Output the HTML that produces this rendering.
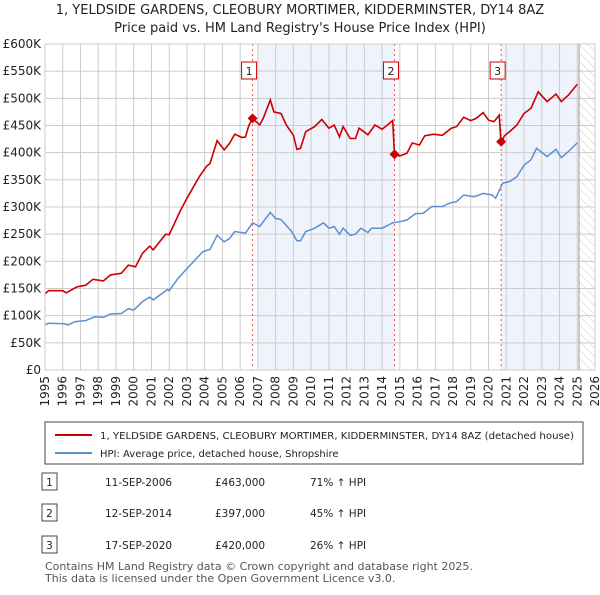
<!DOCTYPE html>
<html><head><meta charset="utf-8"><style>
body{margin:0;background:#fff;font-family:"Liberation Sans",sans-serif;}
svg text{font-family:"DejaVu Sans","Liberation Sans",sans-serif;}
</style></head><body>
<svg width="600" height="590" viewBox="0 0 600 590" xmlns="http://www.w3.org/2000/svg">
<defs><pattern id="hatch" width="6" height="6" patternUnits="userSpaceOnUse" patternTransform="rotate(-45)"><line x1="0" y1="0" x2="0" y2="6" stroke="#ccc" stroke-width="1"/></pattern></defs>
<text x="300" y="14" text-anchor="middle" font-size="13" fill="#222">1, YELDSIDE GARDENS, CLEOBURY MORTIMER, KIDDERMINSTER, DY14 8AZ</text>
<text x="300" y="32" text-anchor="middle" font-size="13" fill="#222">Price paid vs. HM Land Registry's House Price Index (HPI)</text>
<g id="plot"></g>
<g>
<rect x="45" y="422" width="538" height="42" fill="#fff" stroke="#444"/>
<line x1="55" y1="435" x2="92" y2="435" stroke="#cc0000" stroke-width="2"/>
<text x="100" y="439" font-size="10" textLength="474" lengthAdjust="spacingAndGlyphs" fill="#222">1, YELDSIDE GARDENS, CLEOBURY MORTIMER, KIDDERMINSTER, DY14 8AZ (detached house)</text>
<line x1="55" y1="453" x2="92" y2="453" stroke="#5b8fd0" stroke-width="2"/>
<text x="100" y="457" font-size="10" fill="#222">HPI: Average price, detached house, Shropshire</text>
</g>
<g id="table" font-size="10.5" fill="#222"></g>
<text x="45" y="570" font-size="11" fill="#555">Contains HM Land Registry data © Crown copyright and database right 2025.</text>
<text x="45" y="582" font-size="11" fill="#555">This data is licensed under the Open Government Licence v3.0.</text>
</svg>
<script>
const hpiYears=[1995.0,1995.2,1996.1,1996.3,1996.7,1997.3,1997.8,1998.3,1998.7,1999.3,1999.7,2000.0,2000.5,2000.9,2001.1,2001.9,2002.0,2002.5,2003.1,2003.9,2004.3,2004.7,2005.1,2005.4,2005.7,2006.3,2006.7,2007.1,2007.7,2008.0,2008.3,2008.9,2009.2,2009.4,2009.7,2010.2,2010.7,2011.0,2011.3,2011.6,2011.8,2012.2,2012.5,2012.8,2013.2,2013.4,2014.0,2014.6,2015.0,2015.4,2015.9,2016.3,2016.8,2017.4,2017.8,2018.2,2018.6,2019.2,2019.7,2020.2,2020.4,2020.8,2021.2,2021.6,2022.0,2022.4,2022.7,2023.3,2023.8,2024.1,2024.5,2025.0];
const hpiValues=[83,86,85,83,89,91,98,97,103,104,113,110,126,134,129,148,146,169,190,218,222,248,236,242,255,252,271,264,290,279,277,255,238,238,255,261,271,261,264,250,261,248,250,261,253,261,261,271,273,276,288,288,301,301,307,310,322,319,325,322,316,344,347,356,377,387,408,393,406,391,402,418];
const redYears=[1995.0,1995.2,1996.0,1996.2,1996.8,1997.3,1997.7,1998.3,1998.7,1999.3,1999.7,2000.1,2000.5,2000.9,2001.1,2001.8,2002.0,2002.6,2003.0,2003.7,2004.1,2004.3,2004.7,2005.1,2005.4,2005.7,2006.1,2006.3,2006.5,2006.7,2007.1,2007.3,2007.7,2007.9,2008.3,2008.6,2009.0,2009.2,2009.4,2009.7,2010.2,2010.6,2011.0,2011.3,2011.6,2011.8,2012.2,2012.5,2012.7,2013.2,2013.6,2014.0,2014.6,2014.7,2015.0,2015.4,2015.7,2016.1,2016.4,2016.9,2017.4,2017.9,2018.2,2018.6,2019.0,2019.3,2019.7,2020.0,2020.3,2020.6,2020.7,2020.9,2021.2,2021.6,2022.0,2022.4,2022.8,2023.3,2023.8,2024.1,2024.5,2025.0];
const redValues=[140,146,146,142,153,156,167,164,175,178,193,190,215,228,221,250,249,291,316,356,375,380,422,405,417,434,428,429,451,463,451,463,497,475,472,451,432,406,408,439,448,461,445,451,429,448,426,426,445,433,451,443,459,396,394,399,418,414,431,434,432,445,448,465,459,463,474,460,457,469,418,431,439,451,472,482,512,494,508,494,506,526];
const saleLabels=["1","2","3"];
const saleYears=[2006.70,2014.70,2020.71];
const saleValues=[463,397,420];
const saleDates=["11-SEP-2006","12-SEP-2014","17-SEP-2020"];
const salePrices=["£463,000","£397,000","£420,000"];
const saleHpi=["71% ↑ HPI","45% ↑ HPI","26% ↑ HPI"];
const yTicks=[0,50,100,150,200,250,300,350,400,450,500,550,600];
const xTicks=[1995,1996,1997,1998,1999,2000,2001,2002,2003,2004,2005,2006,2007,2008,2009,2010,2011,2012,2013,2014,2015,2016,2017,2018,2019,2020,2021,2022,2023,2024,2025,2026];

const L=45,R=595,T=44,B=370,X0=1995,X1=2026,YMAX=600;
const xs=y=>L+(y-X0)/(X1-X0)*(R-L);
const ys=v=>B-v/YMAX*(B-T);
const NS="http://www.w3.org/2000/svg";
const plot=document.getElementById('plot');
function mk(tag,attrs,parent){const e=document.createElementNS(NS,tag);for(const k in attrs)e.setAttribute(k,attrs[k]);(parent||plot).appendChild(e);return e;}

let e;
e=mk('rect',{x:xs(2007.0),y:T,width:xs(saleYears[1])-xs(2007.0),height:B-T,fill:'#eef3fc'});


e=mk('rect',{x:xs(saleYears[2]),y:T,width:xs(2025.1)-xs(saleYears[2]),height:B-T,fill:'#eef3fc'});


e=mk('rect',{x:xs(2025.1),y:T,width:R-xs(2025.1),height:B-T,fill:'url(#hatch)'});


yTicks.forEach(v=>{
  e=mk('line',{x1:L,x2:R,y1:ys(v),y2:ys(v),stroke:'#cccccc','stroke-width':1});
  
  
  e=mk('text',{x:L-4,y:ys(v)+4,'text-anchor':'end','font-size':12,fill:'#222'});
  e.textContent=v===0?'£0':'£'+v+'K';
  
  
});
xTicks.forEach(y=>{
  e=mk('line',{x1:xs(y),x2:xs(y),y1:T,y2:B,stroke:'#cccccc','stroke-width':1});
  
  
  e=mk('text',{x:0,y:0,'text-anchor':'end','font-size':12,fill:'#222',transform:`translate(${xs(y)+4},${B+6}) rotate(-90)`});
  e.textContent=y;
  
  
});
e=mk('line',{x1:xs(2025.1),x2:xs(2025.1),y1:T,y2:B,stroke:'#999','stroke-width':1});


saleYears.forEach((y,i)=>{
  e=mk('line',{x1:xs(y),x2:xs(y),y1:T,y2:B,stroke:'#ee5555','stroke-width':1,'stroke-dasharray':'2,3'});
  
  
});
function pathOf(xa,va){return xa.map((x,i)=>(i?'L':'M')+xs(x).toFixed(1)+','+ys(va[i]).toFixed(1)).join('');}
e=mk('path',{d:pathOf(hpiYears,hpiValues),fill:'none',stroke:'#5b8fd0','stroke-width':1.5});


e=mk('path',{d:pathOf(redYears,redValues),fill:'none',stroke:'#cc0000','stroke-width':1.6});


saleYears.forEach((y,i)=>{
  const cx=xs(y),cy=ys(saleValues[i]);
  e=mk('path',{d:`M${cx},${cy-5}L${cx+5},${cy}L${cx},${cy+5}L${cx-5},${cy}Z`,fill:'#cc0000'});
  
  
  e=mk('rect',{x:cx-11,y:62,width:15,height:17,fill:'#fff',stroke:'#cc0000'});
  
  
  e=mk('text',{x:cx-3.5,y:75,'text-anchor':'middle','font-size':11,fill:'#222'});
  e.textContent=saleLabels[i];
  
  
});
e=mk('rect',{x:L,y:T,width:R-L,height:B-T,fill:'none',stroke:'#cccccc'});



const tbl=document.getElementById('table');
const rowY=[482,513,545];
saleLabels.forEach((s,i)=>{
  const y=rowY[i];
  e=mk('rect',{x:42,y:y-9,width:15,height:17,fill:'#fff',stroke:'#444'},tbl);
  
  
  e=mk('text',{x:49.5,y:y+4,'text-anchor':'middle'},tbl);e.textContent=s;
  
  
  e=mk('text',{x:105,y:y+4},tbl);e.textContent=saleDates[i];
  
  
  e=mk('text',{x:215,y:y+4},tbl);e.textContent=salePrices[i];
  
  
  e=mk('text',{x:310,y:y+4},tbl);e.textContent=saleHpi[i];
  
  
});
</script>
</body></html>
